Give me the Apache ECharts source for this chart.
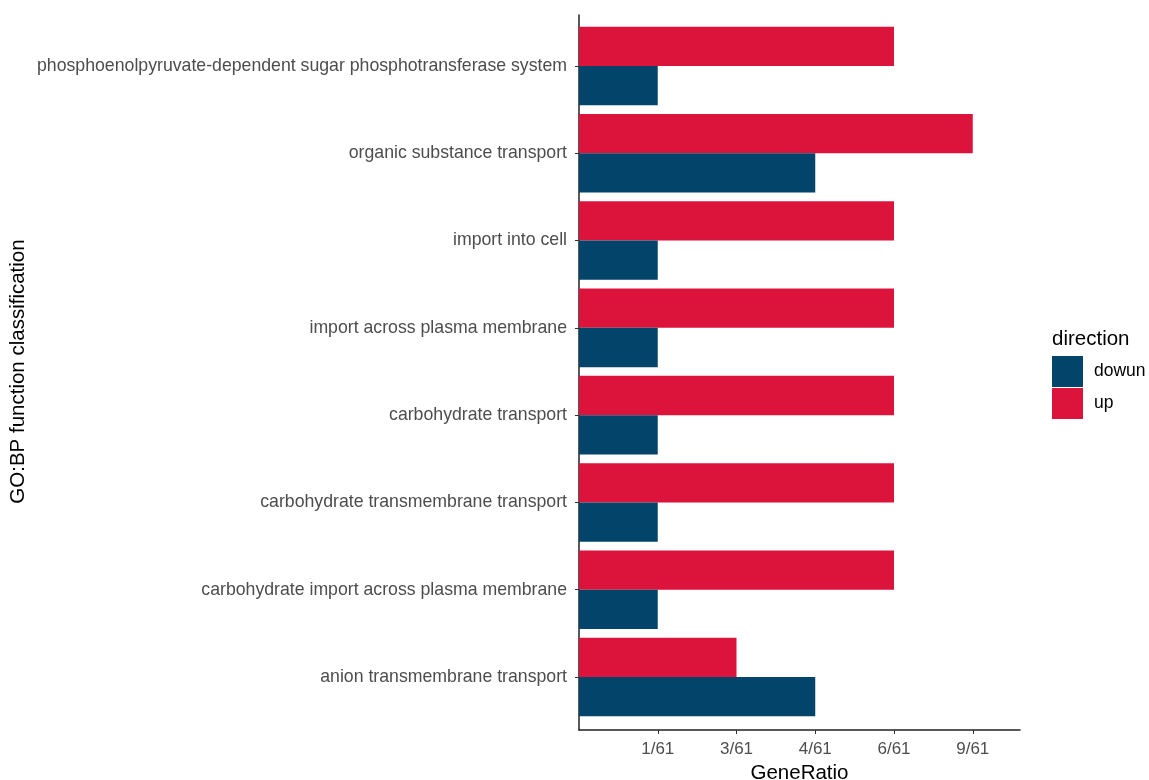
<!DOCTYPE html>
<html>
<head>
<meta charset="utf-8">
<script src="https://cdn.jsdelivr.net/npm/echarts@6/dist/echarts.min.js"></script>
<style>html,body{margin:0;padding:0;background:#fff}#c{width:1149px;height:780px}</style>
</head>
<body>
<div id="c"></div>
<script>
// Categories bottom to top
const categories = [
  'anion transmembrane transport',
  'carbohydrate import across plasma membrane',
  'carbohydrate transmembrane transport',
  'carbohydrate transport',
  'import across plasma membrane',
  'import into cell',
  'organic substance transport',
  'phosphoenolpyruvate-dependent sugar phosphotransferase system'
];
// Discrete GeneRatio levels (x axis tick labels)
const tickLabels = ['1/61', '3/61', '4/61', '6/61', '9/61'];
// Series values (bottom to top), as GeneRatio levels
const downValues = ['4/61', '1/61', '1/61', '1/61', '1/61', '1/61', '4/61', '1/61'];
const upValues   = ['3/61', '6/61', '6/61', '6/61', '6/61', '6/61', '9/61', '6/61'];

const toPos = v => tickLabels.indexOf(v) + 1;
const FONT = "'Liberation Sans', Arial, sans-serif";
const XMAX = tickLabels.length + 0.6;

const chart = echarts.init(document.getElementById('c'), null, {renderer: 'canvas'});
chart.setOption({
  animation: false,
  textStyle: {fontFamily: FONT},
  title: {
    text: 'direction', left: 1052, top: 329, padding: 0,
    textStyle: {fontSize: 20.5, fontWeight: 'normal', color: '#000', fontFamily: FONT}
  },
  legend: {
    orient: 'vertical', left: 1052, top: 356, padding: 0,
    itemWidth: 31, itemHeight: 31, itemGap: 1,
    icon: 'rect',
    data: ['dowun', 'up'],
    textStyle: {fontSize: 17.5, color: '#000', fontFamily: FONT, padding: [0, 0, 0, 6]}
  },
  grid: [
    {left: 579, right: 129, top: 22.4, bottom: 59.4, containLabel: false, outerBoundsMode: 'none'},
    {left: 579, right: 129, top: 15, bottom: 50, containLabel: false, outerBoundsMode: 'none'}
  ],
  xAxis: [
    {gridIndex: 0, type: 'value', min: 0, max: XMAX, show: false},
    {
      gridIndex: 1, type: 'value', min: 0, max: XMAX, interval: 1,
      axisLine: {show: true, lineStyle: {color: '#222', width: 1.5}},
      axisTick: {show: true, length: 4, lineStyle: {color: '#333'}, customValues: [1, 2, 3, 4, 5]},
      axisLabel: {
        customValues: [1, 2, 3, 4, 5],
        formatter: v => tickLabels[Math.round(v) - 1] || '',
        fontSize: 17, color: '#4d4d4d', margin: 11, fontFamily: FONT
      },
      splitLine: {show: false},
      name: 'GeneRatio', nameLocation: 'middle', nameGap: 28,
      nameTextStyle: {fontSize: 20.5, color: '#000', fontFamily: FONT}
    }
  ],
  yAxis: [
    {
      gridIndex: 0, type: 'category', data: categories,
      axisLine: {show: false},
      axisTick: {show: true, alignWithLabel: true, length: 4, lineStyle: {color: '#333'}},
      axisLabel: {fontSize: 17.7, color: '#4d4d4d', margin: 12, fontFamily: FONT, padding: [4, 0, 0, 0]},
      name: 'GO:BP function classification', nameLocation: 'middle', nameGap: 550,
      nameRotate: 90,
      nameTextStyle: {fontSize: 20.5, color: '#000', fontFamily: FONT}
    },
    {
      gridIndex: 1, type: 'value', min: 0, max: 1,
      axisLine: {show: true, lineStyle: {color: '#222', width: 1.5}},
      axisTick: {show: false}, axisLabel: {show: false}, splitLine: {show: false}
    }
  ],
  series: [
    {
      name: 'up', type: 'bar', xAxisIndex: 0, yAxisIndex: 0,
      data: upValues.map(toPos), itemStyle: {color: '#DC143C'},
      barCategoryGap: '10%', barGap: '0%'
    },
    {
      name: 'dowun', type: 'bar', xAxisIndex: 0, yAxisIndex: 0,
      data: downValues.map(toPos), itemStyle: {color: '#02446A'},
      barCategoryGap: '10%', barGap: '0%'
    }
  ]
});
</script>
</body>
</html>
